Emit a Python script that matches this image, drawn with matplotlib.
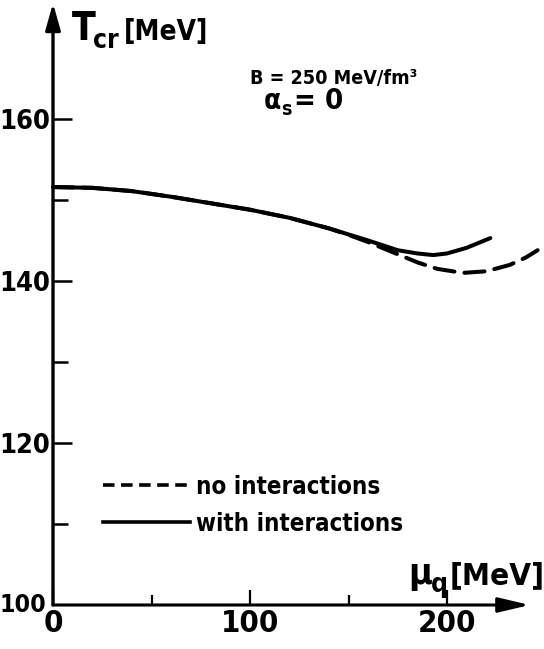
import matplotlib
matplotlib.use("Agg")
import matplotlib.pyplot as plt
import matplotlib.font_manager as fm
from matplotlib.textpath import TextPath
import numpy as np

# Data
mu_with = [0, 20, 40, 60, 80, 100, 120, 140, 160, 175, 185, 193, 200, 210, 222]
T_with = [151.6, 151.5, 151.1, 150.4, 149.6, 148.8, 147.8, 146.5, 145.0, 143.8, 143.4, 143.2, 143.4, 144.1, 145.3]
mu_no = [0, 20, 40, 60, 80, 100, 120, 140, 150, 160, 170, 185, 195, 208, 220, 232, 240, 246]
T_no = [151.6, 151.5, 151.1, 150.4, 149.6, 148.8, 147.8, 146.5, 145.7, 144.8, 143.8, 142.3, 141.5, 141.0, 141.2, 142.0, 142.9, 143.8]

xticks_major = [0, 100, 200]
xticks_minor = [50, 150]
yticks_major = [120, 140, 160]
yticks_minor = [110, 130, 150]
labels_legend = ["no interactions", "with interactions"]


# ---- pick the narrowest bold font installed ----
def _stretch(f):
    s = f.stretch
    if isinstance(s, str):
        s = fm.stretch_dict.get(s, 500)
    return s


def _weight(f):
    w = f.weight
    if isinstance(w, str):
        w = fm.weight_dict.get(w, 400)
    return w


best = None
best_key = None
for f in fm.fontManager.ttflist:
    st = _stretch(f)
    nm = f.name
    narrow = st < 500 or "Narrow" in nm or "Condensed" in nm
    if not narrow:
        continue
    if not f.fname.lower().endswith((".ttf", ".otf")):
        continue
    w = _weight(f)
    if f.style != "normal":
        continue
    eff = st if st < 500 else 300
    key = (abs(w - 700), eff)
    if best_key is None or key < best_key:
        best_key, best = key, f

if best is not None:
    FP = fm.FontProperties(fname=best.fname)
else:
    FP = fm.FontProperties(family="DejaVu Sans", weight="bold")

W, H = 544, 649
PX = 100 / 72.0


def fit_size(s, wpx, maxsize, prop=FP):
    tp = TextPath((0, 0), s, size=1, prop=prop)
    w1 = tp.get_extents().width * PX
    return min(maxsize, wpx / w1) if w1 > 0 else maxsize


fig = plt.figure(figsize=(W / 100, H / 100), dpi=100)
x0px, y0px = 53, 605
ax = fig.add_axes([x0px / W, (H - y0px) / H, 1 - x0px / W, y0px / H])
ax.set_xlim(0, (W - x0px) / 1.97)
ax.set_ylim(100, 100 + y0px / 8.1)
for s in ax.spines.values():
    s.set_visible(False)

ax.plot(mu_with, T_with, color="black", lw=2.9, solid_capstyle="round", clip_on=False)
ax.plot(mu_no, T_no, color="black", lw=2.9, dashes=(5, 2.5), dash_capstyle="round", clip_on=False)

# axes with arrows
ax.annotate("", xy=(0, 174.3), xytext=(0, 100),
            arrowprops=dict(arrowstyle="-|>,head_length=1.6,head_width=0.45", lw=2.4, color="black",
                            shrinkA=0, shrinkB=0), annotation_clip=False)
ax.annotate("", xy=(242, 100), xytext=(0, 100),
            arrowprops=dict(arrowstyle="-|>,head_length=1.9,head_width=0.45", lw=2.2, color="black",
                            shrinkA=0, shrinkB=0), annotation_clip=False)

ysz = fit_size("160", 47, 28)
xsz = fit_size("100", 54, 28)
ax.set_xticks(xticks_major)
ax.set_xticks(xticks_minor, minor=True)
ax.set_yticks(yticks_major)
ax.set_yticks(yticks_minor, minor=True)
ax.set_xticklabels([str(v) for v in xticks_major], fontproperties=FP, fontsize=xsz)
ax.set_yticklabels([str(v) for v in yticks_major], fontproperties=FP, fontsize=ysz)
ax.tick_params(axis="y", which="major", direction="in", length=14, width=1.8, pad=2)
ax.tick_params(axis="y", which="minor", direction="in", length=11, width=1.8)
ax.tick_params(axis="x", which="major", direction="in", length=11, width=1.6, pad=3)
ax.tick_params(axis="x", which="minor", direction="in", length=7, width=1.6)


def T(xpx, ypx, s, size, ha="left", va="baseline", prop=FP, **kw):
    fig.text(xpx / W, 1 - ypx / H, s, fontproperties=prop, fontsize=size, ha=ha, va=va, **kw)


T(46, 612, "100", fit_size("100", 43, 28), ha="right")
# y label
T(72, 40, "T", 28)
T(93, 48, "cr", 19)
T(124, 40, "[MeV]", fit_size("[MeV]", 80, 28))
# x label
T(408, 584, "μ", 26)
T(431, 592, "q", 19)
T(450, 584, "[MeV]", fit_size("[MeV]", 90, 28))
# parameters
T(250, 84, "B = 250 MeV/fm³", fit_size("B = 250 MeV/fm³", 165, 21))
T(264, 109, "α", 20)
T(281, 115, "s", 14)
T(294, 109, "= 0", 21)
# legend
fig.add_artist(plt.Line2D([103 / W, 190 / W], [1 - 485 / H] * 2, color="black", lw=2.6, dashes=(3.2, 1.8)))
fig.add_artist(plt.Line2D([103 / W, 190 / W], [1 - 522 / H] * 2, color="black", lw=2.6))
lsz = fit_size(labels_legend[1], 205, 20)
T(196, 494, labels_legend[0], lsz)
T(196, 531, labels_legend[1], lsz)

fig.savefig("out.png", dpi=100)
